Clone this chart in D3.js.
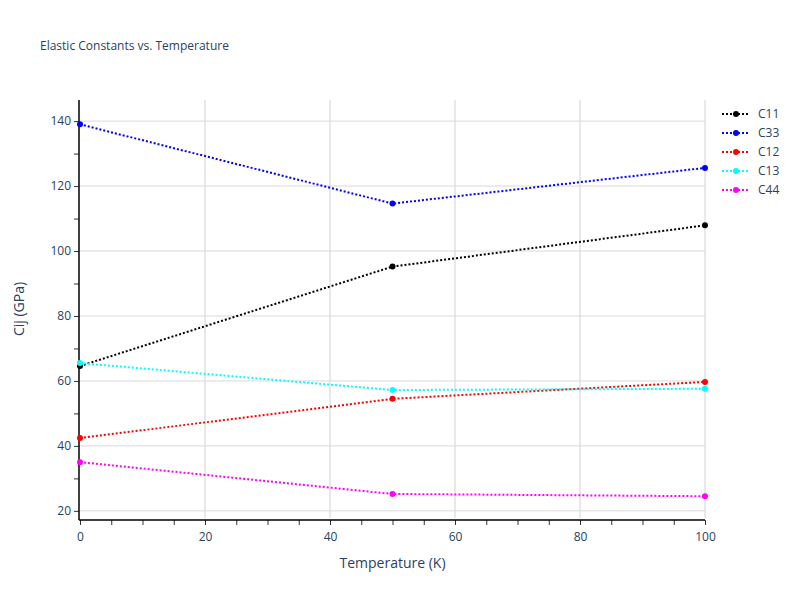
<!DOCTYPE html>
<html>
<head>
<meta charset="utf-8">
<script src="https://cdn.jsdelivr.net/npm/d3@7"></script>
<style>
  body { margin: 0; background: #fff; }
  text { font-family: "Open Sans", sans-serif; }
</style>
</head>
<body>
<svg id="chart" width="800" height="600"></svg>
<script>
// chart data
var temperatures = [0, 50, 100];
var seriesNames = ['C11', 'C33', 'C12', 'C13', 'C44'];
var seriesColors = ['#000000', '#0000ff', '#ff0000', '#00ffff', '#ff00ff'];
var c11 = [64.6, 95.2, 107.9];
var c33 = [139.0, 114.6, 125.6];
var c12 = [42.4, 54.5, 59.7];
var c13 = [65.5, 57.2, 57.6];
var c44 = [35.0, 25.2, 24.5];
var xTicks = [0, 20, 40, 60, 80, 100];
var yTicks = [20, 40, 60, 80, 100, 120, 140];

var series = [c11, c33, c12, c13, c44].map(function (vals, i) {
  return { name: seriesNames[i], color: seriesColors[i], values: vals };
});

var svg = d3.select('#chart');
var plotLeft = 80, plotRight = 705, plotTop = 100, plotBottom = 518;
var textColor = '#2a3f5f';

var x = d3.scaleLinear().domain([0, 100]).range([plotLeft, plotRight]);
var y = d3.scaleLinear().domain([17.8, 146.5]).range([plotBottom, plotTop]);

// grid
svg.append('g').selectAll('line').data(xTicks.slice(1)).enter().append('line')
  .attr('x1', x).attr('x2', x).attr('y1', plotTop).attr('y2', plotBottom)
  .attr('stroke', '#e0e0e0').attr('stroke-width', 1.5);
svg.append('g').selectAll('line').data(yTicks).enter().append('line')
  .attr('x1', plotLeft).attr('x2', plotRight).attr('y1', y).attr('y2', y)
  .attr('stroke', '#d9d9d9');

// axes
var xAxis = svg.append('g').attr('transform', 'translate(0,' + (plotBottom + 2) + ')')
  .call(d3.axisBottom(x).tickValues(d3.range(0, 101, 5)).tickSize(5)
    .tickFormat(function (d) { return d % 20 === 0 ? d : ''; }));
var yAxis = svg.append('g').attr('transform', 'translate(' + (plotLeft - 1) + ',0)')
  .call(d3.axisLeft(y).tickValues(d3.range(20, 141, 10)).tickSize(5)
    .tickFormat(function (d) { return d % 20 === 0 ? d : ''; }));
[xAxis, yAxis].forEach(function (a) {
  a.select('.domain').remove();
  a.selectAll('.tick line').attr('stroke', '#333');
  a.selectAll('.tick text').attr('fill', textColor).style('font-size', '12px');
});
xAxis.selectAll('.tick text').attr('dy', '1.1em');
svg.append('line').attr('x1', plotLeft - 1).attr('x2', plotRight).attr('y1', plotBottom + 2).attr('y2', plotBottom + 2)
  .attr('stroke', '#000').attr('stroke-width', 1.5);
svg.append('line').attr('x1', plotLeft - 1).attr('x2', plotLeft - 1).attr('y1', plotTop).attr('y2', plotBottom + 2)
  .attr('stroke', '#000').attr('stroke-width', 1.5);

// series
var line = d3.line().x(function (d, i) { return x(temperatures[i]); }).y(function (d) { return y(d); });
series.forEach(function (s) {
  var g = svg.append('g');
  g.append('path').attr('d', line(s.values)).attr('fill', 'none')
    .attr('stroke', s.color).attr('stroke-width', 2).attr('stroke-dasharray', '2,2');
  g.selectAll('circle').data(s.values).enter().append('circle')
    .attr('cx', function (d, i) { return x(temperatures[i]); })
    .attr('cy', y).attr('r', 3).attr('fill', s.color);
});

// titles
svg.append('text').attr('x', 40).attr('y', 50).text('Elastic Constants vs. Temperature')
  .attr('fill', textColor).style('font-size', '12px');
svg.append('text').attr('x', (plotLeft + plotRight) / 2).attr('y', 568).attr('text-anchor', 'middle')
  .text('Temperature (K)').attr('fill', textColor).style('font-size', '14px');
svg.append('text').attr('transform', 'translate(24,' + ((plotTop + plotBottom) / 2) + ') rotate(-90)')
  .attr('text-anchor', 'middle').text('Cij (GPa)').attr('fill', textColor).style('font-size', '14px');

// legend
var legend = svg.append('g').attr('transform', 'translate(722,114)');
series.forEach(function (s, i) {
  var row = legend.append('g').attr('transform', 'translate(0,' + (i * 19) + ')');
  row.append('line').attr('x1', 0).attr('x2', 28).attr('stroke', s.color)
    .attr('stroke-width', 2).attr('stroke-dasharray', '2,2');
  row.append('circle').attr('cx', 14).attr('r', 3).attr('fill', s.color);
  row.append('text').attr('x', 36).attr('dy', '0.35em').text(s.name)
    .attr('fill', textColor).style('font-size', '12px');
});
</script>
</body>
</html>
